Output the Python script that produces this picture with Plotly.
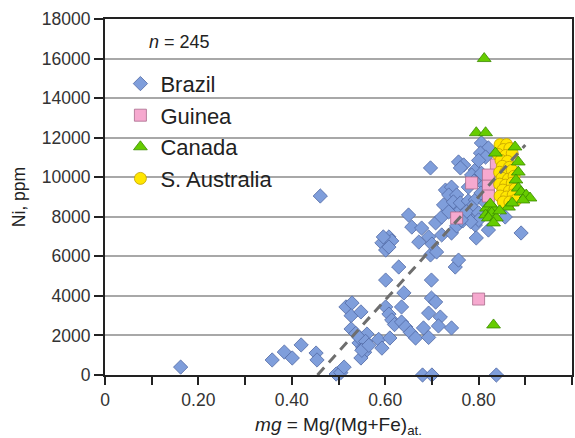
import plotly.graph_objects as go

# Ni content versus mg number for four regions: (mg, Ni ppm) pairs
brazil = [
    (0.162, 400), (0.358, 760), (0.384, 1160), (0.401, 860), (0.420, 1520),
    (0.452, 1110), (0.454, 760), (0.461, 9050), (0.495, 50), (0.505, 120),
    (0.512, 400),
    (0.516, 3440), (0.529, 3640), (0.527, 3000), (0.548, 3190), (0.527, 2330),
    (0.537, 2100), (0.561, 2070), (0.544, 1620), (0.552, 1370), (0.556, 1150),
    (0.548, 860), (0.544, 1900), (0.558, 1700), (0.550, 1250), (0.565, 1500),
    (0.586, 1800), (0.593, 1360), (0.610, 1870), (0.601, 3440), (0.608, 3080),
    (0.614, 2780), (0.620, 2550), (0.635, 2680), (0.601, 4800), (0.629, 5460),
    (0.640, 4150), (0.635, 3440), (0.644, 2430), (0.654, 2150), (0.665, 1870),
    (0.682, 2380), (0.693, 1900), (0.693, 3130), (0.699, 3890), (0.708, 3690),
    (0.718, 2930), (0.714, 2480), (0.742, 2380), (0.699, 4800), (0.697, 6070),
    (0.750, 5460), (0.757, 5810), (0.680, 0), (0.700, 0), (0.838, 0),
    (0.593, 6680), (0.608, 6980), (0.601, 6320), (0.614, 6780), (0.608, 6470),
    (0.596, 6980),
    (0.650, 8090), (0.657, 7480), (0.678, 7430), (0.672, 6720), (0.693, 6980),
    (0.708, 7690), (0.721, 7080), (0.700, 6620), (0.710, 6220), (0.742, 7180),
    (0.753, 7540), (0.778, 7990), (0.793, 7580), (0.766, 7790), (0.821, 7330),
    (0.795, 6930), (0.857, 7990), (0.891, 7180),
    (0.736, 8340), (0.746, 8590), (0.757, 8240), (0.725, 8600), (0.721, 7990),
    (0.736, 8250),
    (0.729, 9350), (0.742, 9500), (0.736, 9100), (0.753, 9100), (0.746, 8750),
    (0.761, 8700), (0.778, 8800), (0.793, 8850), (0.785, 8490), (0.774, 8250),
    (0.800, 8200), (0.800, 7840), (0.783, 7750), (0.763, 7840),
    (0.697, 10470), (0.757, 10770), (0.768, 10620), (0.761, 10470),
    (0.793, 10370), (0.785, 10110), (0.806, 10200), (0.778, 9500),
    (0.790, 9800), (0.806, 11730), (0.821, 11480), (0.804, 11220),
    (0.815, 11020), (0.800, 10850), (0.812, 9600), (0.805, 9200),
    (0.815, 8700), (0.830, 8300),
]

guinea = [
    (0.838, 10620), (0.821, 10110), (0.785, 9710), (0.821, 9550),
    (0.821, 9050), (0.753, 7940), (0.800, 3840),
]

canada = [
    (0.812, 16000), (0.795, 12250), (0.815, 12250), (0.832, 2530), (0.836, 11220),
    (0.878, 11530), (0.885, 10770), (0.885, 10260), (0.880, 9860), (0.885, 9450),
    (0.891, 9250), (0.902, 9100), (0.910, 8950), (0.895, 8850), (0.864, 8490),
    (0.872, 8700),
    (0.817, 8440), (0.832, 8440), (0.815, 8090), (0.828, 8190), (0.821, 7940),
    (0.838, 7940), (0.832, 7690), (0.825, 8650), (0.845, 8300),
]

s_australia = [
    (0.846, 11650), (0.860, 11650), (0.853, 11400), (0.867, 11450), (0.842, 11150),
    (0.858, 11100), (0.872, 11200), (0.848, 10850), (0.862, 10800), (0.851, 10550),
    (0.866, 10500), (0.845, 10250), (0.858, 10250), (0.872, 10350), (0.850, 9950),
    (0.864, 9900), (0.876, 10050), (0.845, 9650), (0.858, 9600), (0.872, 9700),
    (0.852, 9350), (0.866, 9300), (0.878, 9400), (0.846, 9050), (0.860, 9000),
    (0.874, 9100), (0.853, 8750), (0.867, 8750), (0.880, 8850),
]

# regression trend line end points
trend_mg = [0.455, 0.900]
trend_ni = [0, 11630]

x_ticks = [0, 0.2, 0.4, 0.6, 0.8, 1.0]
x_tick_labels = ["0", "0.20", "0.40", "0.60", "0.80", "1"]
y_ticks = [0, 2000, 4000, 6000, 8000, 10000, 12000, 14000, 16000, 18000]
y_tick_labels = [str(v) for v in y_ticks]

FONT = "Arial, 'Liberation Sans', sans-serif"

series = [
    # name, points, symbol, size, fill, edge, legend position
    ("Brazil", brazil, "diamond", 11, "#7f9edb", "#5068a3", 1),
    ("Guinea", guinea, "square", 12, "#f6a9cf", "#a86b8a", 2),
    ("S. Australia", s_australia, "circle", 12, "#ffe600", "#c2a000", 4),
    ("Canada", canada, "triangle-up", 12, "#66cc00", "#3b8a00", 3),
]

fig = go.Figure()
for name, pts, sym, size, fill, edge, rank in series:
    fig.add_trace(go.Scatter(
        x=[p[0] for p in pts], y=[p[1] for p in pts],
        mode="markers", name=name, legendrank=rank, cliponaxis=False,
        marker=dict(symbol=sym, size=size, color=fill,
                    line=dict(color=edge, width=0.8)),
    ))

fig.add_trace(go.Scatter(
    x=trend_mg, y=trend_ni, mode="lines", showlegend=False,
    line=dict(color="#6e6e6e", width=3, dash="10px,7px"),
))

fig.add_annotation(
    text="<i>n</i> = 245", xref="paper", yref="paper",
    x=0.09, y=0.935, xanchor="left", yanchor="middle",
    showarrow=False, font=dict(family=FONT, size=18, color="#222"),
)

fig.update_layout(
    width=575, height=438,
    margin=dict(l=105, r=1, t=19, b=63),
    paper_bgcolor="white", plot_bgcolor="white",
    font=dict(family=FONT, color="#222"),
    showlegend=True,
    legend=dict(x=0.033, y=0.877, xanchor="left", yanchor="top",
                bgcolor="rgba(0,0,0,0)", font=dict(family=FONT, size=22, color="#222"),
                tracegroupgap=0),
    xaxis=dict(
        range=[0, 1], tickvals=x_ticks, ticktext=x_tick_labels,
        ticks="outside", ticklen=8, tickwidth=2, tickcolor="#222",
        minor=dict(tick0=0, dtick=0.1, ticks="outside", ticklen=8,
                   tickwidth=2, tickcolor="#222", showgrid=False),
        showline=True, linecolor="#222", linewidth=2, mirror=True,
        showgrid=False, zeroline=False,
        tickfont=dict(family=FONT, size=17.5, color="#333"),
        title=dict(text="<i>mg</i> = Mg/(Mg+Fe)<sub>at.</sub>",
                   font=dict(family=FONT, size=19, color="#222"), standoff=10),
    ),
    yaxis=dict(
        range=[0, 18000], tickvals=y_ticks, ticktext=y_tick_labels,
        ticks="outside", ticklen=9, tickwidth=2, tickcolor="#222",
        showline=True, linecolor="#222", linewidth=2, mirror=True,
        showgrid=True, gridcolor="#a8a8a8", gridwidth=1.5, zeroline=False,
        tickfont=dict(family=FONT, size=17.5, color="#333"),
        title=dict(text="Ni, ppm", font=dict(family=FONT, size=17.5, color="#222"),
                   standoff=12),
    ),
)

fig.write_html("out.html")
